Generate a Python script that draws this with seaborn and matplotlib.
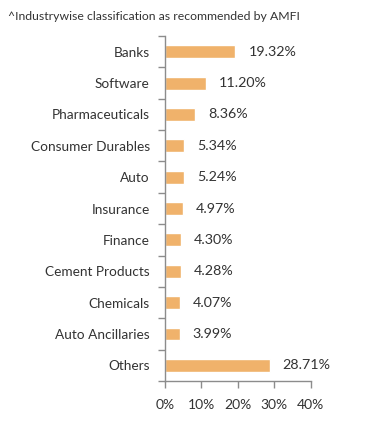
import matplotlib
matplotlib.use('Agg')
import matplotlib.pyplot as plt
import seaborn as sns
import pandas as pd

sectors = ['Banks', 'Software', 'Pharmaceuticals', 'Consumer Durables', 'Auto',
           'Insurance', 'Finance', 'Cement Products', 'Chemicals',
           'Auto Ancillaries', 'Others']
weights = [19.32, 11.20, 8.36, 5.34, 5.24, 4.97, 4.30, 4.28, 4.07, 3.99, 28.71]
x_ticks = [0, 10, 20, 30, 40]

df = pd.DataFrame({'sector': sectors, 'weight': weights})

sns.set_style('white')
plt.rcParams['font.family'] = ['Lato', 'DejaVu Sans']

text_col = '#333333'
axis_col = '#8c8c8c'
bar_col = '#f0b26b'

fig = plt.figure(figsize=(3.91, 4.34), dpi=100)
ax = fig.add_axes([0.422, 0.122, 0.373, 0.795])

sns.barplot(data=df, x='weight', y='sector', color=bar_col, width=0.41,
            saturation=1, ax=ax)

# value labels right of each bar
for i, v in enumerate(weights):
    ax.text(v + 3.6, i, f'{v:.2f}%', va='center', ha='left',
            fontsize=10.3, color=text_col)

ax.set_xlim(0, 40)
ax.set_ylim(len(sectors) - 0.5, -0.5)
ax.set_xticks(x_ticks)
ax.set_xticklabels([f'{t}%' for t in x_ticks], fontsize=10, color=text_col)

# ticks at category boundaries, labels at centres
ax.set_yticks([i - 0.5 for i in range(len(sectors) + 1)])
ax.set_yticklabels([])
ax.set_yticks(range(len(sectors)), minor=True)
ax.set_yticklabels(sectors, minor=True, fontsize=9.8, color=text_col)
ax.tick_params(axis='y', which='minor', length=0, pad=11)
ax.tick_params(axis='y', which='major', length=5, width=1, color=axis_col,
               direction='out', left=True)
ax.tick_params(axis='x', length=5, width=1, color=axis_col, direction='out',
               bottom=True, pad=8)

ax.set_xlabel('')
ax.set_ylabel('')
for s in ['top', 'right']:
    ax.spines[s].set_visible(False)
for s in ['left', 'bottom']:
    ax.spines[s].set_color(axis_col)
    ax.spines[s].set_linewidth(1)

fig.text(0.02, 0.963, '^Industrywise classification as recommended by AMFI',
         fontsize=8.8, color=text_col, ha='left', va='center')

fig.savefig('out.png', dpi=100)
